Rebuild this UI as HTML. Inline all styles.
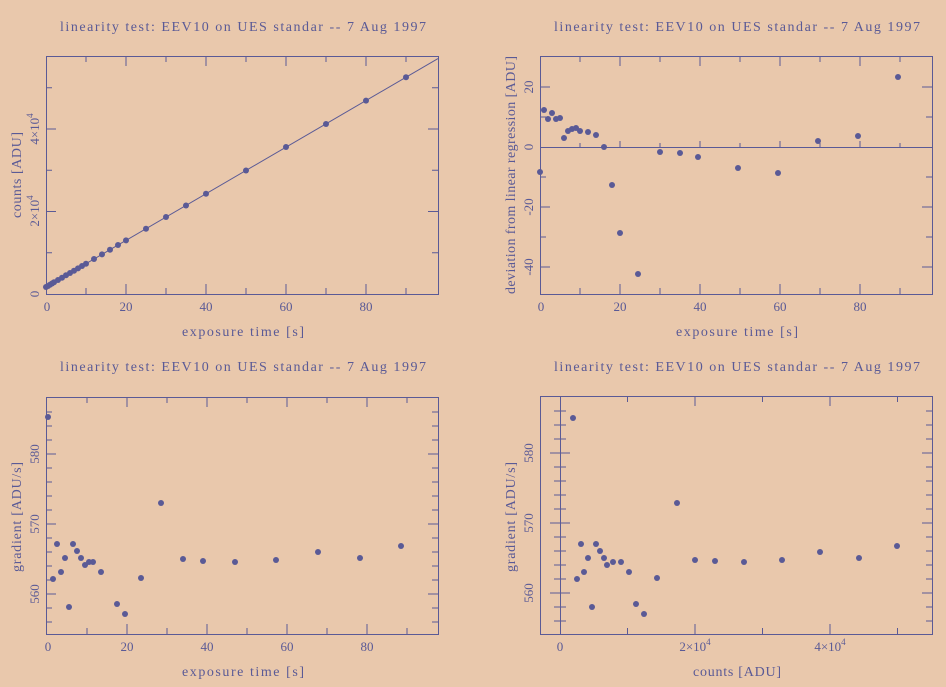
<!DOCTYPE html>
<html><head><meta charset="utf-8"><style>
html,body{margin:0;padding:0;background:#e9c8ac;}
svg{display:block}
text{font-family:"Liberation Serif",serif;fill:#5a5a96;font-size:14px}
.t{font-size:13px}
</style></head><body>
<svg width="946" height="687" viewBox="0 0 946 687" xmlns="http://www.w3.org/2000/svg">
<rect width="946" height="687" fill="#e9c8ac"/>
<g stroke="#5a5a96" stroke-width="1" fill="none">
<rect x="46.5" y="56.5" width="392" height="238"/>
<path d="M86,294v-6M126,294v-10M166,294v-6M206,294v-10M246,294v-6M286,294v-10M326,294v-6M366,294v-10M406,294v-6
M86,56v6M126,56v10M166,56v6M206,56v10M246,56v6M286,56v10M326,56v6M366,56v10M406,56v6
M46,252.75h6M46,211.5h10M46,170.25h6M46,129h10M46,87.75h6
M438,252.75h-6M438,211.5h-10M438,170.25h-6M438,129h-10M438,87.75h-6"/>
<line x1="46" y1="287" x2="438" y2="58.6"/>
<rect x="540.5" y="56.5" width="392" height="238"/>
<line x1="540" y1="147.5" x2="932" y2="147.5"/>
<path d="M580,294v-6M620,294v-10M660,294v-6M700,294v-10M740,294v-6M780,294v-10M820,294v-6M860,294v-10M900,294v-6
M580,56v6M620,56v10M660,56v6M700,56v10M740,56v6M780,56v10M820,56v6M860,56v10M900,56v6
M540,87h10M540,117h6M540,177h6M540,207h10M540,237h6M540,267h10
M932,87h-10M932,117h-6M932,177h-6M932,207h-10M932,237h-6M932,267h-10
M580,147v-4M620,147v-6M660,147v-4M700,147v-6M740,147v-4M780,147v-6M820,147v-4M860,147v-6M900,147v-4"/>
<rect x="46.5" y="397.5" width="392" height="237"/>
<path d="M87,634v-6M127,634v-10M167,634v-6M207,634v-10M247,634v-6M287,634v-10M327,634v-6M367,634v-10M407,634v-6
M87,397v6M127,397v10M167,397v6M207,397v10M247,397v6M287,397v10M327,397v6M367,397v10M407,397v6
M46,622h6M46,608h6M46,594h10M46,580h6M46,566h6M46,552h6M46,538h6M46,524h10M46,510h6M46,496h6M46,482h6M46,468h6M46,454h10M46,440h6M46,426h6M46,412h6
M438,622h-6M438,608h-6M438,594h-10M438,580h-6M438,566h-6M438,552h-6M438,538h-6M438,524h-10M438,510h-6M438,496h-6M438,482h-6M438,468h-6M438,454h-10M438,440h-6M438,426h-6M438,412h-6"/>
<rect x="540.5" y="396.5" width="392" height="238"/>
<line x1="560.5" y1="396" x2="560.5" y2="634"/>
<path d="M627.5,634v-6M695,634v-10M762.5,634v-6M830,634v-10M897.5,634v-6
M627.5,396v6M695,396v10M762.5,396v6M830,396v10M897.5,396v6
M560,621h6M560,607h6M560,593h10M560,579h6M560,565h6M560,551h6M560,537h6M560,523h10M560,509h6M560,495h6M560,481h6M560,467h6M560,453h10M560,439h6M560,425h6M560,411h6
M554,621h6M554,607h6M550,593h10M554,579h6M554,565h6M554,551h6M554,537h6M550,523h10M554,509h6M554,495h6M554,481h6M554,467h6M550,453h10M554,439h6M554,425h6M554,411h6
M932,621h-6M932,607h-6M932,593h-10M932,579h-6M932,565h-6M932,551h-6M932,537h-6M932,523h-10M932,509h-6M932,495h-6M932,481h-6M932,467h-6M932,453h-10M932,439h-6M932,425h-6M932,411h-6"/>
</g>
<g fill="#5a5a96">
<circle cx="46" cy="287" r="3"/><circle cx="48" cy="286" r="3"/><circle cx="50" cy="284.7" r="3"/><circle cx="52" cy="283.5" r="3"/><circle cx="54" cy="282.3" r="3"/><circle cx="58" cy="280" r="3"/><circle cx="62" cy="277.7" r="3"/><circle cx="66" cy="275.3" r="3"/><circle cx="70" cy="273" r="3"/><circle cx="74" cy="270.7" r="3"/><circle cx="78" cy="268.4" r="3"/><circle cx="82" cy="266" r="3"/><circle cx="86" cy="263.7" r="3"/><circle cx="94" cy="259" r="3"/><circle cx="102" cy="254.4" r="3"/><circle cx="110" cy="249.7" r="3"/><circle cx="118" cy="245" r="3"/><circle cx="126" cy="240.4" r="3"/><circle cx="146" cy="228.7" r="3"/><circle cx="166" cy="217" r="3"/><circle cx="186" cy="205.5" r="3"/><circle cx="206" cy="193.8" r="3"/><circle cx="246" cy="170.5" r="3"/><circle cx="286" cy="147" r="3"/><circle cx="326" cy="124" r="3"/><circle cx="366" cy="100.6" r="3"/><circle cx="406" cy="77.3" r="3"/>
<circle cx="540" cy="172" r="3"/><circle cx="544" cy="110" r="3"/><circle cx="548" cy="119" r="3"/><circle cx="552" cy="113" r="3"/><circle cx="556" cy="119" r="3"/><circle cx="560" cy="118" r="3"/><circle cx="564" cy="138" r="3"/><circle cx="568" cy="131" r="3"/><circle cx="572" cy="129" r="3"/><circle cx="576" cy="128" r="3"/><circle cx="580" cy="131" r="3"/><circle cx="588" cy="132" r="3"/><circle cx="596" cy="135" r="3"/><circle cx="604" cy="147" r="3"/><circle cx="612" cy="185" r="3"/><circle cx="620" cy="233" r="3"/><circle cx="638" cy="274" r="3"/><circle cx="660" cy="152" r="3"/><circle cx="680" cy="153" r="3"/><circle cx="698" cy="157" r="3"/><circle cx="738" cy="168" r="3"/><circle cx="778" cy="173" r="3"/><circle cx="818" cy="141" r="3"/><circle cx="858" cy="136" r="3"/><circle cx="898" cy="77" r="3"/>
<circle cx="48" cy="417" r="3"/><circle cx="53" cy="579" r="3"/><circle cx="57" cy="544" r="3"/><circle cx="61" cy="572" r="3"/><circle cx="65" cy="558" r="3"/><circle cx="69" cy="607" r="3"/><circle cx="73" cy="544" r="3"/><circle cx="77" cy="551" r="3"/><circle cx="81" cy="558" r="3"/><circle cx="85" cy="565" r="3"/><circle cx="89" cy="562" r="3"/><circle cx="93" cy="562" r="3"/><circle cx="101" cy="572" r="3"/><circle cx="117" cy="604" r="3"/><circle cx="125" cy="614" r="3"/><circle cx="141" cy="578" r="3"/><circle cx="161" cy="503" r="3"/><circle cx="183" cy="559" r="3"/><circle cx="203" cy="561" r="3"/><circle cx="235" cy="562" r="3"/><circle cx="276" cy="560" r="3"/><circle cx="318" cy="552" r="3"/><circle cx="360" cy="558" r="3"/><circle cx="401" cy="546" r="3"/>
<circle cx="573" cy="418" r="3"/><circle cx="577" cy="579" r="3"/><circle cx="581" cy="544" r="3"/><circle cx="584" cy="572" r="3"/><circle cx="588" cy="558" r="3"/><circle cx="592" cy="607" r="3"/><circle cx="596" cy="544" r="3"/><circle cx="600" cy="551" r="3"/><circle cx="604" cy="558" r="3"/><circle cx="607" cy="565" r="3"/><circle cx="613" cy="562" r="3"/><circle cx="621" cy="562" r="3"/><circle cx="629" cy="572" r="3"/><circle cx="636" cy="604" r="3"/><circle cx="644" cy="614" r="3"/><circle cx="657" cy="578" r="3"/><circle cx="677" cy="503" r="3"/><circle cx="695" cy="560" r="3"/><circle cx="715" cy="561" r="3"/><circle cx="744" cy="562" r="3"/><circle cx="782" cy="560" r="3"/><circle cx="820" cy="552" r="3"/><circle cx="859" cy="558" r="3"/><circle cx="897" cy="546" r="3"/>
</g>
<g>
<text x="60" y="31" textLength="366" lengthAdjust="spacing">linearity test: EEV10 on UES standar  -- 7 Aug 1997</text>
<text x="554" y="31" textLength="366" lengthAdjust="spacing">linearity test: EEV10 on UES standar  -- 7 Aug 1997</text>
<text x="60" y="371" textLength="366" lengthAdjust="spacing">linearity test: EEV10 on UES standar  -- 7 Aug 1997</text>
<text x="554" y="371" textLength="366" lengthAdjust="spacing">linearity test: EEV10 on UES standar  -- 7 Aug 1997</text>
<text x="182" y="336" textLength="122" lengthAdjust="spacing">exposure time [s]</text>
<text x="676" y="336" textLength="122" lengthAdjust="spacing">exposure time [s]</text>
<text x="182" y="676" textLength="122" lengthAdjust="spacing">exposure time [s]</text>
<text x="693" y="676" textLength="88" lengthAdjust="spacing">counts [ADU]</text>
</g>
<g text-anchor="middle">
<text class="t" x="47" y="311">0</text><text class="t" x="126" y="311">20</text><text class="t" x="206" y="311">40</text><text class="t" x="286" y="311">60</text><text class="t" x="366" y="311">80</text>
<text class="t" x="541" y="311">0</text><text class="t" x="620" y="311">20</text><text class="t" x="700" y="311">40</text><text class="t" x="780" y="311">60</text><text class="t" x="860" y="311">80</text>
<text class="t" x="48" y="651">0</text><text class="t" x="127" y="651">20</text><text class="t" x="207" y="651">40</text><text class="t" x="287" y="651">60</text><text class="t" x="367" y="651">80</text>
<text class="t" x="560" y="651">0</text><text class="t" x="695" y="651">2×10<tspan font-size="9" dy="-6">4</tspan></text><text class="t" x="830" y="651">4×10<tspan font-size="9" dy="-6">4</tspan></text>
<text class="t" transform="translate(39,294) rotate(-90)">0</text>
<text class="t" transform="translate(39,211) rotate(-90)">2×10<tspan font-size="9" dy="-6">4</tspan></text>
<text class="t" transform="translate(39,129) rotate(-90)">4×10<tspan font-size="9" dy="-6">4</tspan></text>
<text class="t" transform="translate(533,87) rotate(-90)">20</text>
<text class="t" transform="translate(533,147) rotate(-90)">0</text>
<text class="t" transform="translate(533,207) rotate(-90)">-20</text>
<text class="t" transform="translate(533,267) rotate(-90)">-40</text>
<text class="t" transform="translate(39,594) rotate(-90)">560</text>
<text class="t" transform="translate(39,524) rotate(-90)">570</text>
<text class="t" transform="translate(39,454) rotate(-90)">580</text>
<text class="t" transform="translate(533,593) rotate(-90)">560</text>
<text class="t" transform="translate(533,523) rotate(-90)">570</text>
<text class="t" transform="translate(533,453) rotate(-90)">580</text>
</g>
<text transform="translate(21,218) rotate(-90)" textLength="86" lengthAdjust="spacing">counts [ADU]</text>
<text transform="translate(515,294) rotate(-90)" textLength="238" lengthAdjust="spacing">deviation from linear regression [ADU]</text>
<text transform="translate(21,572) rotate(-90)" textLength="110" lengthAdjust="spacing">gradient [ADU/s]</text>
<text transform="translate(515,572) rotate(-90)" textLength="110" lengthAdjust="spacing">gradient [ADU/s]</text>
</svg>
</body></html>
